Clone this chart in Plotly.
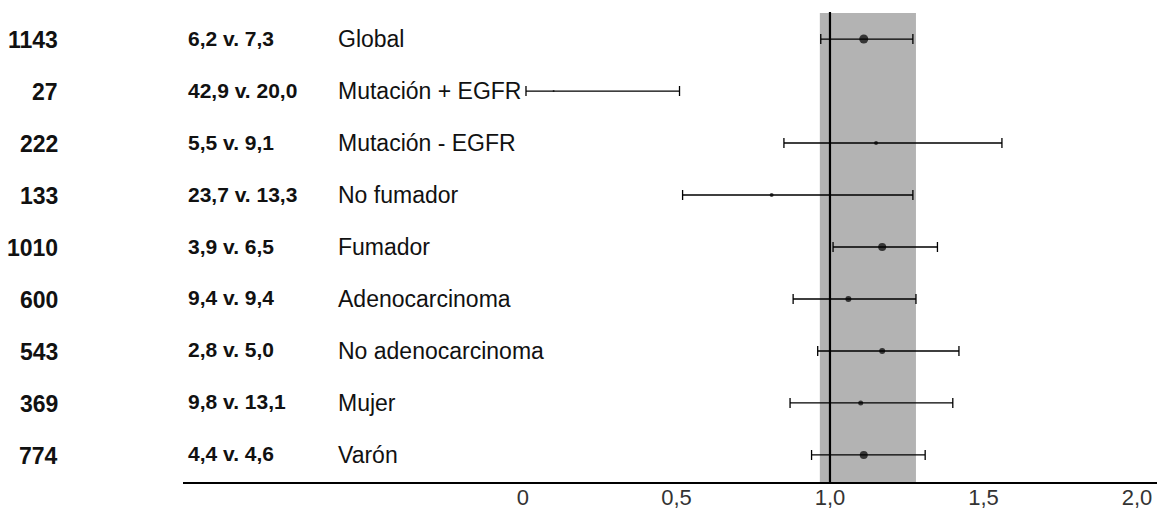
import plotly.graph_objects as go

# ---- data ----
groups = ["Global", "Mutación + EGFR", "Mutación - EGFR", "No fumador", "Fumador",
          "Adenocarcinoma", "No adenocarcinoma", "Mujer", "Varón"]
n_patients = ["1143", "27", "222", "133", "1010", "600", "543", "369", "774"]
rates = ["6,2 v. 7,3", "42,9 v. 20,0", "5,5 v. 9,1", "23,7 v. 13,3", "3,9 v. 6,5",
         "9,4 v. 9,4", "2,8 v. 5,0", "9,8 v. 13,1", "4,4 v. 4,6"]
hr = [1.11, 0.10, 1.15, 0.81, 1.17, 1.06, 1.17, 1.10, 1.11]
ci_low = [0.97, 0.01, 0.85, 0.52, 1.01, 0.88, 0.96, 0.87, 0.94]
ci_high = [1.27, 0.51, 1.56, 1.27, 1.35, 1.28, 1.42, 1.40, 1.31]
marker_sizes = [9, 2, 4, 4, 8, 6, 6, 5, 8]
shade_range = [0.967, 1.28]
ref_value = 1.0
tick_vals = [0, 0.5, 1.0, 1.5, 2.0]
tick_text = ["0", "0,5", "1,0", "1,5", "2,0"]

err_plus = [h - m for h, m in zip(ci_high, hr)]
err_minus = [m - l for m, l in zip(hr, ci_low)]

FIG_W, FIG_H = 1157, 510
PLOT_W = 974

fig = go.Figure()

fig.add_trace(go.Scatter(
    x=hr, y=groups, mode="markers",
    marker=dict(color="black", size=marker_sizes, symbol="circle", line=dict(width=0)),
    error_x=dict(type="data", symmetric=False, array=err_plus, arrayminus=err_minus,
                 color="black", thickness=1.3, width=5),
    showlegend=False, hoverinfo="skip",
))

# shaded band and reference line
fig.add_shape(type="rect", xref="x", yref="paper", x0=shade_range[0], x1=shade_range[1],
              y0=0, y1=0.998, fillcolor="#b3b3b3", line=dict(width=0), layer="below")
fig.add_shape(type="line", xref="x", yref="paper", x0=ref_value, x1=ref_value,
              y0=0, y1=1, line=dict(color="black", width=2.2))

# text columns (paper coordinates, relative to plot area starting at x=183)
col1_x = (60 - 183) / PLOT_W
col2_x = (186 - 183) / PLOT_W
col3_x = (336 - 183) / PLOT_W
for g, n, r in zip(groups, n_patients, rates):
    fig.add_annotation(x=col1_x, y=g, xref="paper", yref="y", text="<b>" + n + "</b>",
                       showarrow=False, xanchor="right", yanchor="middle", yshift=-1,
                       font=dict(family="Liberation Sans", size=23, color="#111111"))
    fig.add_annotation(x=col2_x, y=g, xref="paper", yref="y", text="<b>" + r + "</b>",
                       showarrow=False, xanchor="left", yanchor="middle", yshift=1,
                       font=dict(family="Liberation Sans", size=21, color="#111111"))
    fig.add_annotation(x=col3_x, y=g, xref="paper", yref="y", text=g, showarrow=False,
                       xanchor="left", yanchor="middle",
                       font=dict(family="Liberation Sans", size=23, color="#111111"))

fig.update_layout(
    width=FIG_W, height=FIG_H,
    margin=dict(l=183, r=0, t=12, b=28, pad=0, autoexpand=False),
    paper_bgcolor="white", plot_bgcolor="white",
    xaxis=dict(range=[-1.107, 2.065], tickvals=tick_vals, ticktext=tick_text,
               showgrid=False, zeroline=False, showline=True, linecolor="black",
               linewidth=2, ticks="", ticklabelstandoff=-5, automargin=False,
               tickfont=dict(family="Liberation Sans", size=22, color="#333333")),
    yaxis=dict(type="category", range=[8.52, -0.52], showgrid=False, zeroline=False,
               showline=False, showticklabels=False, ticks="", automargin=False),
    font=dict(family="Liberation Sans"),
)

fig.write_html("out.html", config={"displayModeBar": False},
               post_script="document.body.style.margin='0';document.body.style.overflow='hidden';")
